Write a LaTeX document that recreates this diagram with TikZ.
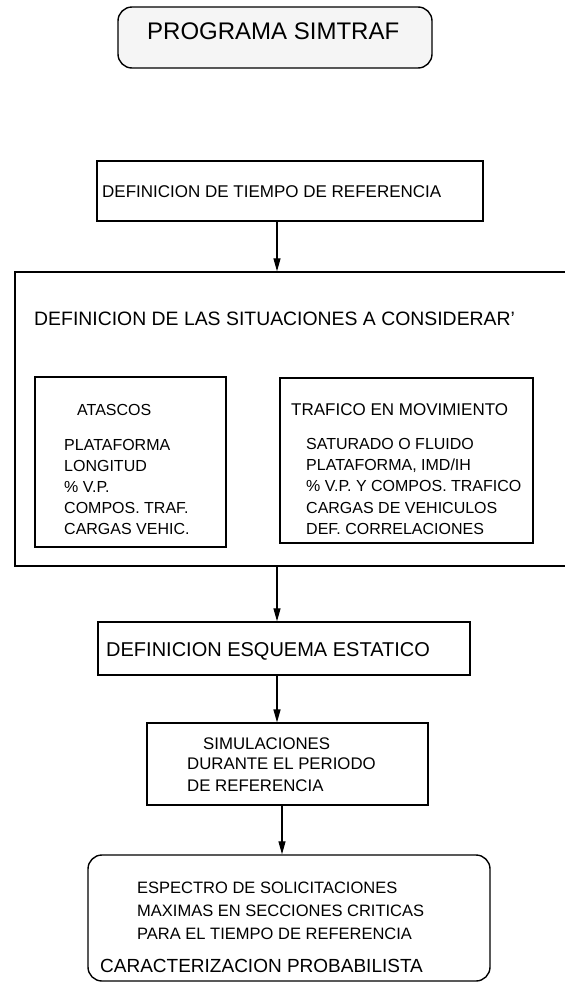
\documentclass[tikz,border=0pt]{standalone}
\usepackage{fontspec}
\setmainfont{Liberation Sans}
\usetikzlibrary{arrows.meta}

\begin{document}
\begin{tikzpicture}[x=1pt, y=-1pt, >={Triangle[length=13pt,width=7pt]},
            box/.style={draw, line width=1.4pt, inner sep=0pt},
            subbox/.style={draw, line width=1.1pt, inner sep=0pt},
            lbl/.style={anchor=base west, inner sep=0pt, font=\fontsize{16}{16}\selectfont},
            flow/.style={->, line width=1.2pt}]
            \useasboundingbox (0,0) rectangle (565,983);
            \clip (0,0) rectangle (565,983);

            \node[box, rounded corners=14pt, fill=black!4, minimum width=314pt, minimum height=61pt] (title) at (275,37.5) {};
            \node[lbl, font=\fontsize{24}{24}\selectfont] (titlelbl) at (147,39) {PROGRAMA SIMTRAF};

            \node[box, minimum width=386pt, minimum height=60pt] (tiempo) at (290,191) {};
            \node[lbl, font=\fontsize{17}{17}\selectfont] (tiempolbl) at (102,197) {DEFINICION DE TIEMPO DE REFERENCIA};

            \node[box, minimum width=565pt, minimum height=294pt] (situ) at (297.5,419) {};
            \node[lbl, font=\fontsize{19.4}{19.4}\selectfont] (situlbl) at (34,325) {DEFINICION DE LAS SITUACIONES A CONSIDERAR'};

            \node[subbox, minimum width=191pt, minimum height=170pt] (atascos) at (130.5,462) {};
            \node[lbl] (atascoslbl) at (77,415) {ATASCOS};
            \foreach \txt [count=\i] in {PLATAFORMA, LONGITUD, \% V.P., COMPOS. TRAF., CARGAS VEHIC.}
                \node[lbl] (atascos-\i) at (64,429+21*\i) {\txt};

            \node[subbox, minimum width=253pt, minimum height=165pt] (trafico) at (406.5,460.5) {};
            \node[lbl, font=\fontsize{17}{17}\selectfont] (traficolbl) at (291,415) {TRAFICO EN MOVIMIENTO};
            \foreach \txt [count=\i] in {SATURADO O FLUIDO, {PLATAFORMA, IMD/IH}, \% V.P. Y COMPOS. TRAFICO, CARGAS DE VEHICULOS, DEF. CORRELACIONES}
                \node[lbl] (trafico-\i) at (306,428+21.3*\i) {\txt};

            \node[box, minimum width=372pt, minimum height=53pt] (esquema) at (284,648.5) {};
            \node[lbl, font=\fontsize{20}{20}\selectfont] (esquemalbl) at (106,656) {DEFINICION ESQUEMA ESTATICO};

            \node[subbox, minimum width=281pt, minimum height=82pt] (simul) at (287.5,764) {};
            \node[lbl, font=\fontsize{16.8}{16.8}\selectfont] (simul-1) at (203,749) {SIMULACIONES};
            \node[lbl, font=\fontsize{16.8}{16.8}\selectfont] (simul-2) at (187,769) {DURANTE EL PERIODO};
            \node[lbl, font=\fontsize{16.8}{16.8}\selectfont] (simul-3) at (187,791) {DE REFERENCIA};

            \node[box, rounded corners=14pt, minimum width=402pt, minimum height=126pt] (espectro) at (289,918) {};
            \node[lbl, font=\fontsize{16.5}{16.5}\selectfont] (espectro-1) at (137,893) {ESPECTRO DE SOLICITACIONES};
            \node[lbl, font=\fontsize{16.5}{16.5}\selectfont] (espectro-2) at (137,916) {MAXIMAS EN SECCIONES CRITICAS};
            \node[lbl, font=\fontsize{16.5}{16.5}\selectfont] (espectro-3) at (137,939) {PARA EL TIEMPO DE REFERENCIA};
            \node[lbl, font=\fontsize{19}{19}\selectfont] (caract) at (100,972) {CARACTERIZACION PROBABILISTA};

            \coordinate (spine) at (277,0);
            \coordinate (spinelow) at (282,0);
            \draw[flow] (tiempo.south -| spine) -- (situ.north -| spine);
            \draw[flow] (situ.south -| spine) -- (esquema.north -| spine);
            \draw[flow] (esquema.south -| spine) -- (simul.north -| spine);
            \draw[flow] (simul.south -| spinelow) -- (espectro.north -| spinelow);
        \end{tikzpicture}
\end{document}
